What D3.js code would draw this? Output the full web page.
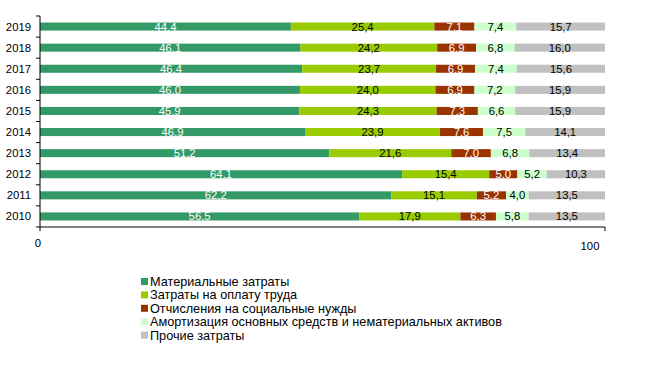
<!DOCTYPE html>
<html>
<head>
<meta charset="utf-8">
<script src="https://cdn.jsdelivr.net/npm/d3@7"></script>
<style>
  body { margin: 0; background: #fff; }
  svg { display: block; font-family: "Liberation Sans", Arial, sans-serif; }
</style>
</head>
<body>
<svg id="chart" width="655" height="365"></svg>
<script>
const years = ["2019", "2018", "2017", "2016", "2015", "2014", "2013", "2012", "2011", "2010"]
const material = [44.4, 46.1, 46.4, 46.0, 45.9, 46.9, 51.2, 64.1, 62.2, 56.5]
const labour = [25.4, 24.2, 23.7, 24.0, 24.3, 23.9, 21.6, 15.4, 15.1, 17.9]
const social = [7.1, 6.9, 6.9, 6.9, 7.3, 7.6, 7.0, 5.0, 5.2, 6.3]
const amort = [7.4, 6.8, 7.4, 7.2, 6.6, 7.5, 6.8, 5.2, 4.0, 5.8]
const other = [15.7, 16.0, 15.6, 15.9, 15.9, 14.1, 13.4, 10.3, 13.5, 13.5]
const seriesNames = [
  "Материальные затраты",
  "Затраты на оплату труда",
  "Отчисления на социальные нужды",
  "Амортизация основных средств и нематериальных активов",
  "Прочие затраты"
]
const xTicks = [0, 100]

const colors = ["#339966", "#99cc00", "#993300", "#ccffcc", "#c0c0c0"]
const textColors = ["#fff", "#000", "#fff", "#000", "#000"]
const allSeries = [material, labour, social, amort, other]

const svg = d3.select("#chart")
const fmt = (v) => d3.format(".1f")(v).replace(".", ",")

const x = d3.scaleLinear().domain([0, 100]).range([40, 605])
const y = d3.scaleBand().domain(years).range([16, 227]).paddingInner(0.62).paddingOuter(0.31)

const rows = years.map((yr, i) => {
  const r = { year: yr }
  allSeries.forEach((s, k) => { r["s" + k] = s[i] })
  return r
})
const keys = allSeries.map((_, k) => "s" + k)
const stacked = d3.stack().keys(keys)(rows)

const layer = svg.selectAll(".layer")
  .data(stacked)
  .enter()
  .append("g")
  .attr("class", "layer")

layer.selectAll("rect")
  .data((d) => d)
  .enter()
  .append("rect")
  .attr("x", (d) => x(d[0]))
  .attr("y", (d) => y(d.data.year))
  .attr("width", (d) => x(d[1]) - x(d[0]))
  .attr("height", y.bandwidth())
  .attr("fill", function () { return colors[d3.select(this.parentNode).datum().index] })

layer.selectAll("text")
  .data((d) => d.map((p) => ({ p, k: d.index })))
  .enter()
  .append("text")
  .attr("x", (d) => (x(d.p[0]) + x(d.p[1])) / 2)
  .attr("y", (d) => y(d.p.data.year) + y.bandwidth() / 2 + 4)
  .attr("text-anchor", "middle")
  .attr("font-size", 11.3)
  .attr("fill", (d) => textColors[d.k])
  .text((d) => fmt(d.p.data["s" + d.k]))

// y axis
const yAxis = svg.append("g")
yAxis.append("line")
  .attr("x1", 40).attr("x2", 40).attr("y1", 16).attr("y2", 227)
  .attr("stroke", "#000")
const bounds = years.map((yr) => y(yr) - y.step() * y.paddingInner() / 2)
bounds.push(227)
yAxis.selectAll(".tk")
  .data(bounds)
  .enter()
  .append("line")
  .attr("x1", 36).attr("x2", 40)
  .attr("y1", (d) => d).attr("y2", (d) => d)
  .attr("stroke", "#000")
yAxis.selectAll(".yl")
  .data(years)
  .enter()
  .append("text")
  .attr("x", 31)
  .attr("y", (d) => y(d) + y.bandwidth() / 2 + 4)
  .attr("text-anchor", "end")
  .attr("font-size", 11.3)
  .text((d) => d)

// x axis
const xAxis = svg.append("g")
xAxis.append("line")
  .attr("x1", 40).attr("x2", 605).attr("y1", 227).attr("y2", 227)
  .attr("stroke", "#000")
xAxis.selectAll(".xt")
  .data(xTicks)
  .enter()
  .append("line")
  .attr("x1", (d) => x(d)).attr("x2", (d) => x(d))
  .attr("y1", 227).attr("y2", 231)
  .attr("stroke", "#000")
xAxis.selectAll(".xl")
  .data(xTicks)
  .enter()
  .append("text")
  .attr("x", (d) => (d === 0 ? x(d) - 2 : x(d) - 15))
  .attr("y", (d) => (d === 0 ? 247 : 250))
  .attr("text-anchor", "middle")
  .attr("font-size", 11.3)
  .text((d) => d)

// legend
const legend = svg.append("g")
  .selectAll("g")
  .data(seriesNames)
  .enter()
  .append("g")
  .attr("transform", (d, i) => `translate(141, ${281 + i * 13.4})`)
legend.append("rect")
  .attr("x", 0).attr("y", -3).attr("width", 7).attr("height", 7)
  .attr("fill", (d, i) => colors[i])
legend.append("text")
  .attr("x", 9).attr("y", 5)
  .attr("font-size", 12.7)
  .text((d) => d)
</script>
</body>
</html>
